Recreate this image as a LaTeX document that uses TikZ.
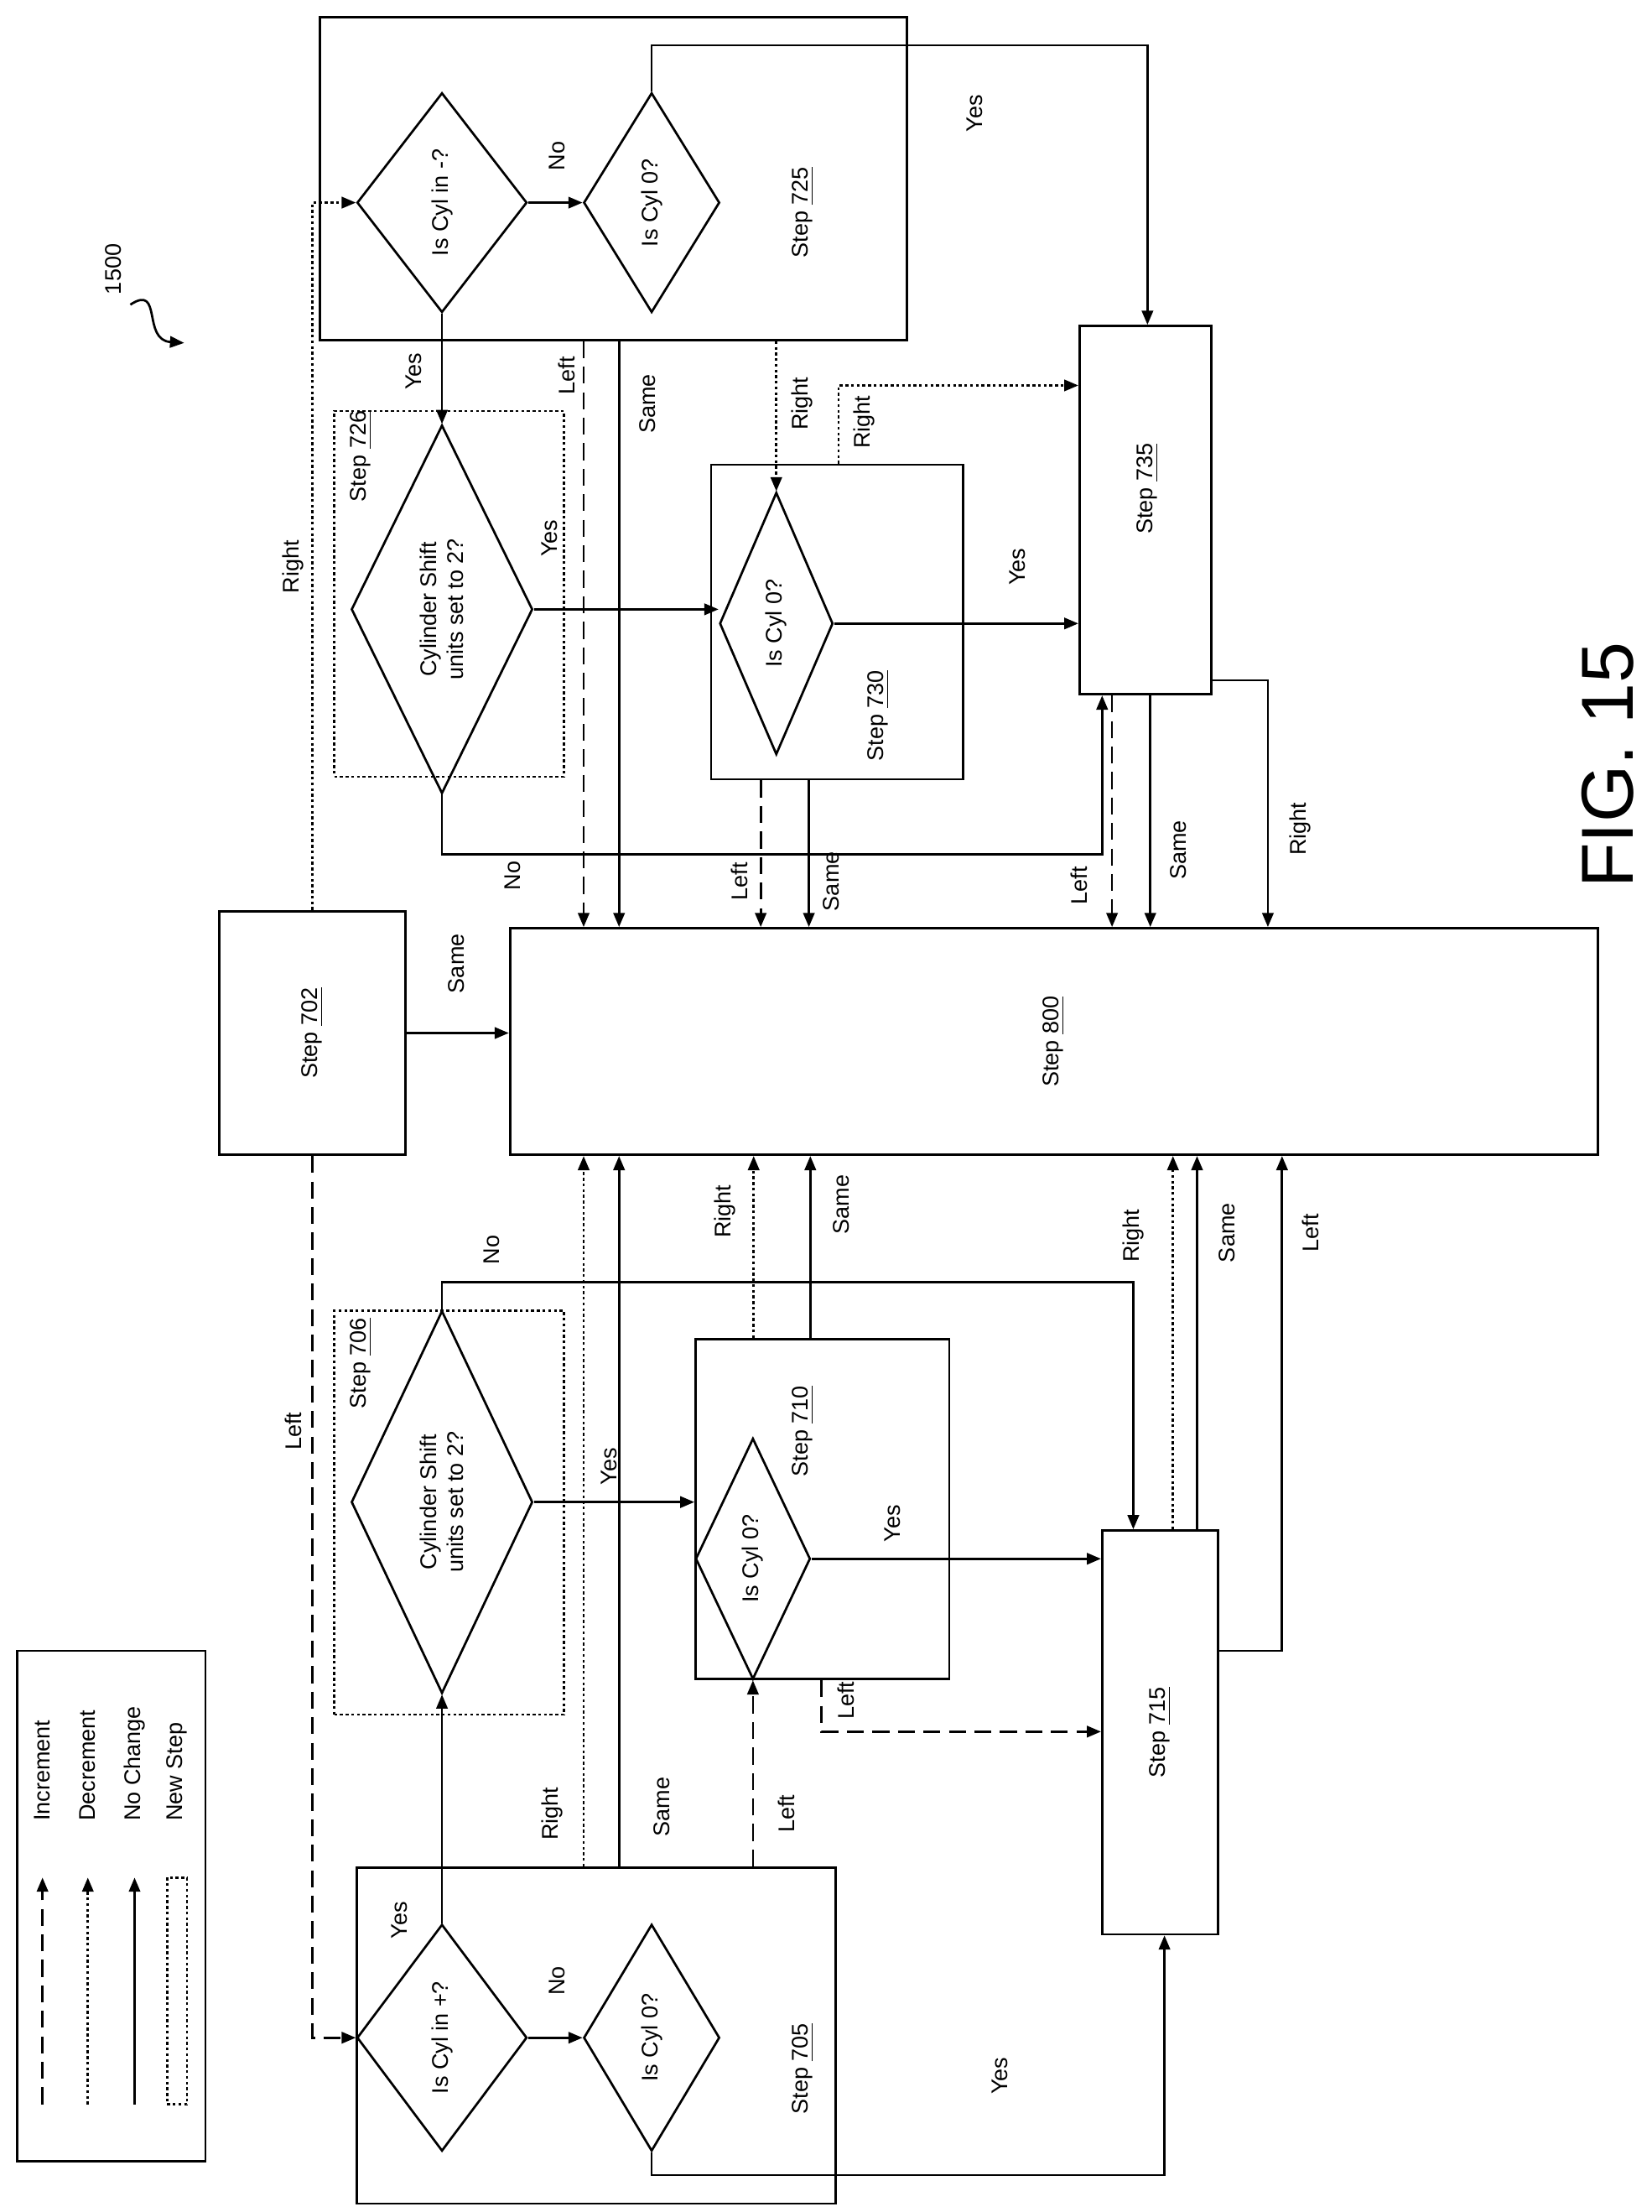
\documentclass[tikz,border=0pt]{standalone}
\usepackage{fontspec}
\setmainfont{Liberation Sans}
\usetikzlibrary{shapes.geometric,arrows.meta}
\begin{document}
\begin{tikzpicture}[x=0.5pt, y=-0.5pt,
    every node/.style = {font=\fontsize{8}{9.5}\selectfont},
    box/.style = {draw, line width=0.8pt, inner sep=0pt},
    nbox/.style = {draw, line width=0.7pt, dash pattern=on 1pt off 1pt, inner sep=0pt},
    dia/.style = {draw, line width=0.8pt, diamond, inner sep=0pt},
    txt/.style = {rotate=90, align=center},
    arr/.style = {draw, line width=0.8pt, -{Triangle[length=5pt,width=4pt]}},
    inc/.style = {dash pattern=on 6pt off 3pt},
    dec/.style = {dash pattern=on 1pt off 1pt},
  ]
  \useasboundingbox (0,0) rectangle (1166,1561);

  % upper half
  \node (b725) [box, minimum width=207pt, minimum height=114pt] at (433,126) {};
  \node (d725a) [dia, minimum width=60pt, minimum height=77.5pt] at (312,143) {};
  \node (d725b) [dia, minimum width=48pt, minimum height=77.5pt] at (460,143) {};
  \node (b726) [nbox, minimum width=81pt, minimum height=129pt] at (317,419) {};
  \node (d726) [dia, minimum width=64pt, minimum height=130pt] at (312,430) {};
  \node (b730) [box, minimum width=89pt, minimum height=111pt] at (591,439) {};
  \node (d730) [dia, minimum width=40pt, minimum height=92.5pt] at (548,440) {};
  \node (b735) [box, minimum width=46.5pt, minimum height=130pt] at (808.5,360) {};
  \node (b800) [box, minimum width=384pt, minimum height=80pt] at (744,735) {};
  \node (b702) [box, minimum width=65.5pt, minimum height=86pt] at (220.5,729) {};

  % lower half
  \node (b705) [box, minimum width=169pt, minimum height=118.5pt] at (421,1436.5) {};
  \node (d705a) [dia, minimum width=60pt, minimum height=80pt] at (312,1438) {};
  \node (d705b) [dia, minimum width=48pt, minimum height=80pt] at (460,1438) {};
  \node (b706) [nbox, minimum width=81pt, minimum height=142.5pt] at (317,1067.5) {};
  \node (d706) [dia, minimum width=64pt, minimum height=135pt] at (312,1060) {};
  \node (b710) [box, minimum width=89.5pt, minimum height=120pt] at (580.5,1065) {};
  \node (d710) [dia, minimum width=40.5pt, minimum height=85pt] at (531.5,1100) {};
  \node (b715) [box, minimum width=41pt, minimum height=142.5pt] at (819,1222.5) {};

  % texts
  \node (t725a) [txt] at (d725a) {Is Cyl in -?};
  \node (t725b) [txt] at (d725b) {Is Cyl 0?};
  \node (t725) [txt] at (567,150) {Step \underline{725}};
  \node (t726a) [txt] at (d726) {Cylinder Shift\\units set to 2?};
  \node (t726) [txt] at (255,322) {Step \underline{726}};
  \node (t730a) [txt] at (d730) {Is Cyl 0?};
  \node (t730) [txt] at (620,505) {Step \underline{730}};
  \node (t735) [txt] at (810,345) {Step \underline{735}};
  \node (t800) [txt] at (b800) {Step \underline{800}};
  \node (t702) [txt] at (b702) {Step \underline{702}};
  \node (t705a) [txt] at (d705a) {Is Cyl in +?};
  \node (t705b) [txt] at (d705b) {Is Cyl 0?};
  \node (t705) [txt] at (567,1460) {Step \underline{705}};
  \node (t706a) [txt] at (d706) {Cylinder Shift\\units set to 2?};
  \node (t706) [txt] at (255,962) {Step \underline{706}};
  \node (t710a) [txt] at (d710) {Is Cyl 0?};
  \node (t710) [txt] at (567,1010) {Step \underline{710}};
  \node (t715) [txt] at (b715) {Step \underline{715}};

  % turning points
  \coordinate (c725) at (810,32);
  \coordinate (c726) at (778,603);
  \coordinate (c730) at (592,272);
  \coordinate (c735) at (895,480);
  \coordinate (c705) at (822,1535);
  \coordinate (c706) at (800,905);
  \coordinate (c710) at (580,1222);
  \coordinate (c715) at (905,1165);

  % upper connectors
  \path[arr] (d725a.east) -- (d725b.west);
  \path[arr] (d725b.north) |- (c725) -- (b735.north -| c725);
  \path[arr, dec] (b702.north) |- (d725a.west);
  \path[arr] (d725a.south) -- (d726.north);
  \path[arr] (d726.east) -- (d726.east -| d730.west);
  \path[arr] (d730.east) -- (d730.east -| b735.west);
  \path[arr] (d726.south) |- (c726) -- (b735.south -| c726);
  \path[arr, dec] (b725.south -| d730.north) -- (d730.north);
  \path[arr, dec] (b730.north -| c730) |- (b735.west |- c730);
  \path[arr, inc] (b725.south -| 412,0) -- (b800.north -| 412,0);
  \path[arr] (b725.south -| 437,0) -- (b800.north -| 437,0);
  \path[arr, inc] (b730.south -| 537,0) -- (b800.north -| 537,0);
  \path[arr] (b730.south -| 571,0) -- (b800.north -| 571,0);
  \path[arr, inc] (b735.south -| 785,0) -- (b800.north -| 785,0);
  \path[arr] (b735.south -| 812,0) -- (b800.north -| 812,0);
  \path[arr] (b735.east |- c735) -| (b800.north -| c735);
  \path[arr] (b702.east) -- (b702.east -| b800.west);

  % lower connectors
  \path[arr, inc] (b702.south) |- (d705a.west);
  \path[arr] (d705a.east) -- (d705b.west);
  \path[arr] (d705b.south) |- (c705) -- (b715.south -| c705);
  \path[arr] (d705a.north) -- (d706.south);
  \path[arr] (d706.north) |- (c706) -- (b715.north -| c706);
  \path[arr] (d706.east) -- (d706.east -| d710.west);
  \path[arr] (d710.east) -- (d710.east -| b715.west);
  \path[arr, dec] (b705.north -| 412,0) -- (b800.south -| 412,0);
  \path[arr] (b705.north -| 437,0) -- (b800.south -| 437,0);
  \path[arr, inc] (b705.north -| d710.south) -- (d710.south);
  \path[arr, dec] (b710.north -| 532,0) -- (b800.south -| 532,0);
  \path[arr] (b710.north -| 572,0) -- (b800.south -| 572,0);
  \path[arr, inc] (b710.south -| c710) |- (b715.west |- c710);
  \path[arr, dec] (b715.north -| 828,0) -- (b800.south -| 828,0);
  \path[arr] (b715.north -| 845,0) -- (b800.south -| 845,0);
  \path[arr] (b715.east |- c715) -| (b800.south -| c715);

  % connector labels
  \node (l1) [txt] at (393,110) {No};
  \node (l2) [txt] at (688,80) {Yes};
  \node (l3) [txt] at (207,400) {Right};
  \node (l4) [txt] at (292,262) {Yes};
  \node (l5) [txt] at (388,380) {Yes};
  \node (l6) [txt] at (718,400) {Yes};
  \node (l7) [txt] at (362,618) {No};
  \node (l8) [txt] at (566,285) {Right};
  \node (l9) [txt] at (610,298) {Right};
  \node (l10) [txt] at (400,265) {Left};
  \node (l11) [txt] at (457,285) {Same};
  \node (l12) [txt] at (522,622) {Left};
  \node (l13) [txt] at (587,622) {Same};
  \node (l14) [txt] at (762,625) {Left};
  \node (l15) [txt] at (832,600) {Same};
  \node (l16) [txt] at (918,585) {Right};
  \node (l17) [txt] at (322,680) {Same};
  \node (l18) [txt] at (207,1010) {Left};
  \node (l19) [txt] at (393,1398) {No};
  \node (l20) [txt] at (282,1355) {Yes};
  \node (l21) [txt] at (706,1465) {Yes};
  \node (l22) [txt] at (347,882) {No};
  \node (l23) [txt] at (430,1035) {Yes};
  \node (l24) [txt] at (630,1075) {Yes};
  \node (l25) [txt] at (390,1280) {Right};
  \node (l26) [txt] at (467,1275) {Same};
  \node (l27) [txt] at (555,1280) {Left};
  \node (l28) [txt] at (512,855) {Right};
  \node (l29) [txt] at (594,850) {Same};
  \node (l30) [txt] at (597,1200) {Left};
  \node (l31) [txt] at (800,872) {Right};
  \node (l32) [txt] at (866,870) {Same};
  \node (l33) [txt] at (925,870) {Left};

  % legend
  \node (leg) [box, minimum width=66.5pt, minimum height=180pt] at (78.5,1345) {};
  \coordinate (g1) at (30,1485);
  \coordinate (g2) at (62,1485);
  \coordinate (g3) at (95,1485);
  \path[arr, inc] (g1) -- ++(0,-160);
  \path[arr, dec] (g2) -- ++(0,-160);
  \path[arr] (g3) -- ++(0,-160);
  \node (gn) [nbox, minimum width=7pt, minimum height=80pt] at (125,1405) {};
  \node (n1) [txt, anchor=west] at (30,1292) {Increment};
  \node (n2) [txt, anchor=west] at (62,1292) {Decrement};
  \node (n3) [txt, anchor=west] at (95,1292) {No Change};
  \node (n4) [txt, anchor=west] at (125,1292) {New Step};

  % figure labels
  \node (ref) [txt] at (80,190) {1500};
  \coordinate (r1) at (92,215);
  \coordinate (r2) at (130,242);
  \draw[line width=0.8pt, -{Triangle[length=5pt,width=4pt]}] (r1) .. controls (115,200) and (100,240) .. (r2);
  \node (fig) [rotate=90, font=\fontsize{26}{30}\selectfont] at (1135,540) {FIG. 15};
\end{tikzpicture}
\end{document}
